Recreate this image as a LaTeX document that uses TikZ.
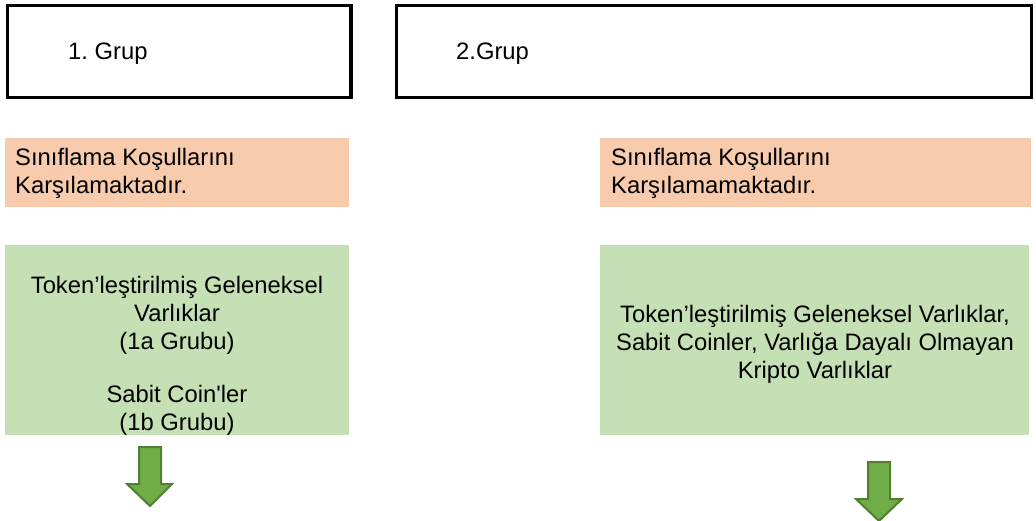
\documentclass[tikz,border=0pt]{standalone}
\usepackage{fontspec}
\setmainfont{Liberation Sans}
\frenchspacing
\definecolor{peach}{HTML}{F8CBAD}
\definecolor{sage}{HTML}{C5E0B4}
\definecolor{arrowfill}{HTML}{70AD47}
\definecolor{arrowedge}{HTML}{507E32}
\begin{document}
\begin{tikzpicture}[x=1pt,y=-1pt,
  groupbox/.style={draw=black,line width=3.5pt,fill=white,inner sep=0pt,anchor=north west},
  condbox/.style={fill=peach,inner sep=0pt,anchor=north west},
  assetbox/.style={fill=sage,inner sep=0pt,anchor=north west},
  txt/.style={inner sep=0pt,text=black,font=\fontsize{23.8}{28}\selectfont},
  downarrow/.style={fill=arrowfill,draw=arrowedge,line width=2pt,line join=miter}
]
\useasboundingbox (0,0) rectangle (1036,521);

% group header frames
\node[groupbox,minimum width=343.5pt,minimum height=92pt] (g1) at (5.5,4) {};
\node[groupbox,minimum width=635pt,minimum height=92pt] (g2) at (394.5,4) {};
\node[txt,anchor=base west] (g1t) at (68,60) {1. Grup};
\node[txt,anchor=base west] (g2t) at (456,60) {2.Grup};

% classification condition bars
\node[condbox,minimum width=344pt,minimum height=69pt] (c1) at (5,138) {};
\node[condbox,minimum width=431pt,minimum height=69pt] (c2) at (600,138) {};
\node[txt,anchor=base west,font=\fontsize{23.8}{27.5}\selectfont] (c1t) at (15,166)
  {\begin{tabular}[t]{@{}l@{}}Sınıflama Koşullarını\\Karşılamaktadır.\end{tabular}};
\node[txt,anchor=base west,font=\fontsize{23.8}{27.5}\selectfont] (c2t) at (611,166)
  {\begin{tabular}[t]{@{}l@{}}Sınıflama Koşullarını\\Karşılamamaktadır.\end{tabular}};

% asset class panels
\node[assetbox,minimum width=344pt,minimum height=190pt] (a1) at (5,245) {};
\node[assetbox,minimum width=429pt,minimum height=190pt] (a2) at (600,245) {};
\node[txt,anchor=base] (a1t) at (177,294)
  {\begin{tabular}[t]{@{}c@{}}Token’leştirilmiş Geleneksel\\Varlıklar\\(1a Grubu)\\[25pt]Sabit Coin\textquotesingle ler\\(1b Grubu)\end{tabular}};
\node[txt,anchor=base] (a2t) at (815,323)
  {\begin{tabular}[t]{@{}c@{}}Token’leştirilmiş Geleneksel Varlıklar,\\Sabit Coinler, Varlığa Dayalı Olmayan\\Kripto Varlıklar\end{tabular}};

% block arrows below the panels
\draw[downarrow] (139,447) -- (161,447) -- (161,484) -- (172,484) -- (150,506)
  -- (127,484) -- (139,484) -- cycle;
\draw[downarrow] (868,462) -- (890,462) -- (890,499) -- (902,499) -- (879,521)
  -- (856,499) -- (868,499) -- cycle;
\end{tikzpicture}
\end{document}
